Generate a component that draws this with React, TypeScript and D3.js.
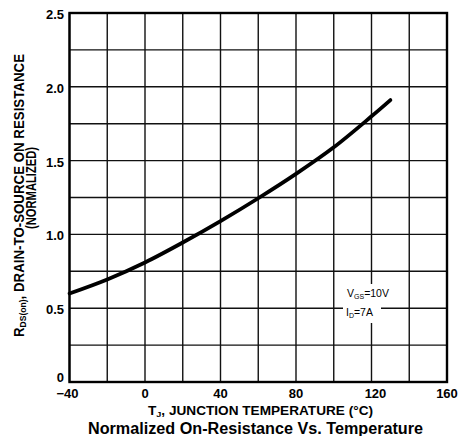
import React from "react";
import * as d3 from "d3";

const temps = [-40, -20, 0, 20, 40, 60, 80, 100, 120, 130];
const resistance = [0.6, 0.695, 0.81, 0.945, 1.09, 1.245, 1.41, 1.59, 1.8, 1.91];
const xGridValues = d3.range(-40, 161, 20);
const yGridValues = d3.range(0, 2.51, 0.25);
const xTickLabels = [-40, 0, 40, 80, 120, 160];
const yTickLabels = [0, 0.5, 1.0, 1.5, 2.0, 2.5];

const W = 461;
const H = 436;
const FONT = "'Liberation Sans', Arial, Helvetica, sans-serif";

export default function App() {
  const x = d3.scaleLinear().domain([-40, 160]).range([69.5, 447]);
  const y = d3.scaleLinear().domain([0, 2.5]).range([382, 13]);
  const pts = temps.map((t, i) => [t, resistance[i]] as [number, number]);
  const line = d3
    .line<[number, number]>()
    .x((d) => x(d[0]))
    .y((d) => y(d[1]))
    .curve(d3.curveCatmullRom.alpha(0.5));

  const fmtY = (v: number) => (v === 0 ? "0" : v.toFixed(1));
  const fmtX = (v: number) => (v < 0 ? "\u2212" + Math.abs(v) : String(v));

  return (
    <svg
      width={W}
      height={H}
      style={{ position: "absolute", left: 0, top: 0, background: "#fff" }}
      fontFamily={FONT}
    >
      <rect x={0} y={0} width={W} height={H} fill="#fff" />
      {/* grid */}
      {xGridValues.map((v) => (
        <line
          key={"gx" + v}
          x1={x(v)}
          x2={x(v)}
          y1={y(0)}
          y2={y(2.5)}
          stroke="#111"
          strokeWidth={1.4}
        />
      ))}
      {yGridValues.map((v) => (
        <line
          key={"gy" + v}
          x1={x(-40)}
          x2={x(160)}
          y1={y(v)}
          y2={y(v)}
          stroke="#111"
          strokeWidth={1.4}
        />
      ))}
      {/* border */}
      <rect
        x={x(-40)}
        y={y(2.5)}
        width={x(160) - x(-40)}
        height={y(0) - y(2.5)}
        fill="none"
        stroke="#000"
        strokeWidth={2.4}
      />
      {/* annotation background */}
      <rect x={343} y={284} width={56} height={17} fill="#fff" />
      <rect x={343} y={301} width={38} height={22} fill="#fff" />
      <text x={347} y={297} fontSize={10.5} fill="#000">
        V<tspan fontSize={7} dy={2}>GS</tspan>
        <tspan dy={-2}>=10V</tspan>
      </text>
      <text x={346} y={316} fontSize={10.5} fill="#000">
        I<tspan fontSize={7} dy={2}>D</tspan>
        <tspan dy={-2}>=7A</tspan>
      </text>
      {/* curve */}
      <path
        d={line(pts) || ""}
        fill="none"
        stroke="#000"
        strokeWidth={3.8}
        strokeLinecap="round"
      />
      {/* y tick labels */}
      {yTickLabels.map((v) => (
        <text
          key={"yl" + v}
          x={64}
          y={v === 0 ? y(v) : y(v) + 6}
          textAnchor="end"
          fontSize={13}
          fontWeight="bold"
          fill="#000"
        >
          {fmtY(v)}
        </text>
      ))}
      {/* x tick labels */}
      {xTickLabels.map((v) => (
        <text
          key={"xl" + v}
          x={x(v) + (v === 120 ? 4 : v === -40 ? -2 : 0)}
          y={398}
          textAnchor="middle"
          fontSize={13}
          fontWeight="bold"
          fill="#000"
        >
          {fmtX(v)}
        </text>
      ))}
      {/* y axis title */}
      <g transform="translate(24,195.5) rotate(-90)">
        <text
          x={0}
          y={0}
          textAnchor="middle"
          fontSize={14}
          fontWeight="bold"
          fill="#000"
          textLength={283}
          lengthAdjust="spacingAndGlyphs"
        >
          R<tspan fontSize={9} dy={2}>DS(on)</tspan>
          <tspan dy={-2}>, DRAIN-TO-SOURCE ON RESISTANCE</tspan>
        </text>
      </g>
      <g transform="translate(36,188) rotate(-90)">
        <text
          x={0}
          y={0}
          textAnchor="middle"
          fontSize={14}
          fontWeight="bold"
          fill="#000"
          textLength={82}
          lengthAdjust="spacingAndGlyphs"
        >
          (NORMALIZED)
        </text>
      </g>
      {/* x axis title */}
      <text
        x={148}
        y={415}
        fontSize={12}
        fontWeight="bold"
        fill="#000"
        textLength={225}
        lengthAdjust="spacingAndGlyphs"
      >
        T<tspan fontSize={8} dy={2}>J</tspan>
        <tspan dy={-2}>, JUNCTION TEMPERATURE (°C)</tspan>
      </text>
      {/* title */}
      <text
        x={88}
        y={434}
        fontSize={16}
        fontWeight="bold"
        fill="#000"
        textLength={335}
        lengthAdjust="spacingAndGlyphs"
      >
        Normalized On-Resistance Vs. Temperature
      </text>
    </svg>
  );
}
